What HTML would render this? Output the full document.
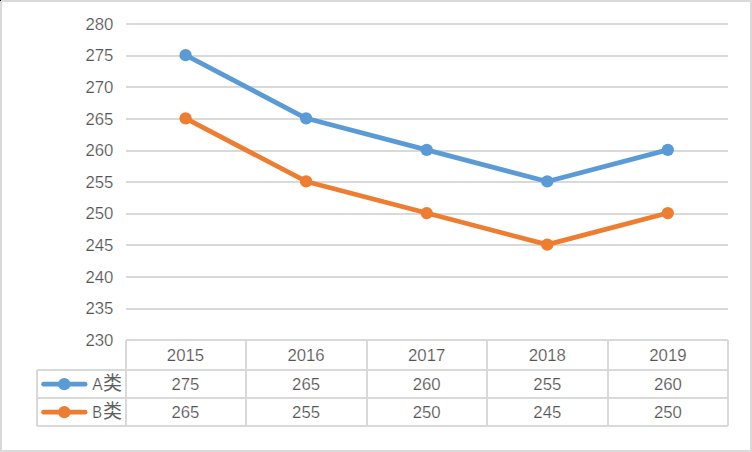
<!DOCTYPE html>
<html><head><meta charset="utf-8"><title>chart</title>
<style>
html,body{margin:0;padding:0;background:#fff;}
body{width:752px;height:452px;overflow:hidden;}
svg{display:block;}
text{font-family:"Liberation Sans",sans-serif;font-size:16.76px;fill:#555555;stroke:#fff;stroke-width:0.2px;}
</style></head><body>
<svg width="752" height="452" viewBox="0 0 752 452">
<rect x="0" y="0" width="752" height="452" fill="#fff"/>
<rect x="1" y="1" width="750" height="450" fill="none" stroke="#D9D9D9" stroke-width="2"/>
<rect x="0" y="0" width="1" height="1" fill="#000"/>
<g fill="#D9D9D9" shape-rendering="crispEdges">
<rect x="126" y="23" width="602" height="2"/>
<rect x="126" y="55" width="602" height="2"/>
<rect x="126" y="86" width="602" height="2"/>
<rect x="126" y="118" width="602" height="2"/>
<rect x="126" y="150" width="602" height="2"/>
<rect x="126" y="181" width="602" height="2"/>
<rect x="126" y="213" width="602" height="2"/>
<rect x="126" y="244" width="602" height="2"/>
<rect x="126" y="276" width="602" height="2"/>
<rect x="126" y="308" width="602" height="2"/>
<rect x="126" y="339" width="602" height="2"/>
<rect x="37" y="369" width="691" height="2"/>
<rect x="37" y="397" width="691" height="2"/>
<rect x="37" y="425" width="691" height="2"/>
<rect x="36" y="370" width="2" height="56"/>
<rect x="125" y="340" width="2" height="86"/>
<rect x="245" y="340" width="2" height="86"/>
<rect x="366" y="340" width="2" height="86"/>
<rect x="486" y="340" width="2" height="86"/>
<rect x="607" y="340" width="2" height="86"/>
<rect x="727" y="340" width="2" height="86"/>
</g>
<polyline points="185.60,55.15 306.15,118.31 426.70,149.89 547.25,181.47 667.80,149.89" fill="none" stroke="#5B9BD5" stroke-width="4.75" stroke-linejoin="round" stroke-linecap="round"/>
<circle cx="185.60" cy="55.15" r="6.15" fill="#5B9BD5"/>
<circle cx="306.15" cy="118.31" r="6.15" fill="#5B9BD5"/>
<circle cx="426.70" cy="149.89" r="6.15" fill="#5B9BD5"/>
<circle cx="547.25" cy="181.47" r="6.15" fill="#5B9BD5"/>
<circle cx="667.80" cy="149.89" r="6.15" fill="#5B9BD5"/>
<polyline points="185.60,118.31 306.15,181.47 426.70,213.05 547.25,244.63 667.80,213.05" fill="none" stroke="#ED7D31" stroke-width="4.75" stroke-linejoin="round" stroke-linecap="round"/>
<circle cx="185.60" cy="118.31" r="6.15" fill="#ED7D31"/>
<circle cx="306.15" cy="181.47" r="6.15" fill="#ED7D31"/>
<circle cx="426.70" cy="213.05" r="6.15" fill="#ED7D31"/>
<circle cx="547.25" cy="244.63" r="6.15" fill="#ED7D31"/>
<circle cx="667.80" cy="213.05" r="6.15" fill="#ED7D31"/>
<g text-anchor="end">
<text x="113.45" y="30.00">280</text>
<text x="113.45" y="61.00">275</text>
<text x="113.45" y="93.00">270</text>
<text x="113.45" y="125.00">265</text>
<text x="113.45" y="156.00">260</text>
<text x="113.45" y="188.00">255</text>
<text x="113.45" y="219.00">250</text>
<text x="113.45" y="251.00">245</text>
<text x="113.45" y="283.00">240</text>
<text x="113.45" y="314.00">235</text>
<text x="113.45" y="346.00">230</text>
</g>
<g text-anchor="middle">
<text x="185.45" y="361.0">2015</text>
<text x="306.07" y="361.0">2016</text>
<text x="426.69" y="361.0">2017</text>
<text x="547.31" y="361.0">2018</text>
<text x="667.93" y="361.0">2019</text>
<text x="185.45" y="389.85">275</text>
<text x="306.07" y="389.85">265</text>
<text x="426.69" y="389.85">260</text>
<text x="547.31" y="389.85">255</text>
<text x="667.93" y="389.85">260</text>
<text x="185.45" y="417.75">265</text>
<text x="306.07" y="417.75">255</text>
<text x="426.69" y="417.75">250</text>
<text x="547.31" y="417.75">245</text>
<text x="667.93" y="417.75">250</text>
</g>
<line x1="43.6" y1="384.15" x2="85.1" y2="384.15" stroke="#5B9BD5" stroke-width="4.75" stroke-linecap="round"/>
<circle cx="64.3" cy="384.15" r="6.15" fill="#5B9BD5"/>
<text x="92.15" y="389.9" style="font-size:17.4px" textLength="10.4" lengthAdjust="spacingAndGlyphs">A</text>
<text x="102.98" y="390.2" style="font-family:'Liberation Sans','Noto Sans CJK SC',sans-serif;font-size:19px;fill:#606060;stroke:none">类</text>
<line x1="43.6" y1="412.15" x2="85.1" y2="412.15" stroke="#ED7D31" stroke-width="4.75" stroke-linecap="round"/>
<circle cx="64.3" cy="412.15" r="6.15" fill="#ED7D31"/>
<text x="92.15" y="417.8" style="font-size:17.4px" textLength="9.77" lengthAdjust="spacingAndGlyphs">B</text>
<text x="102.98" y="418.1" style="font-family:'Liberation Sans','Noto Sans CJK SC',sans-serif;font-size:19px;fill:#606060;stroke:none">类</text>
</svg>
</body></html>
